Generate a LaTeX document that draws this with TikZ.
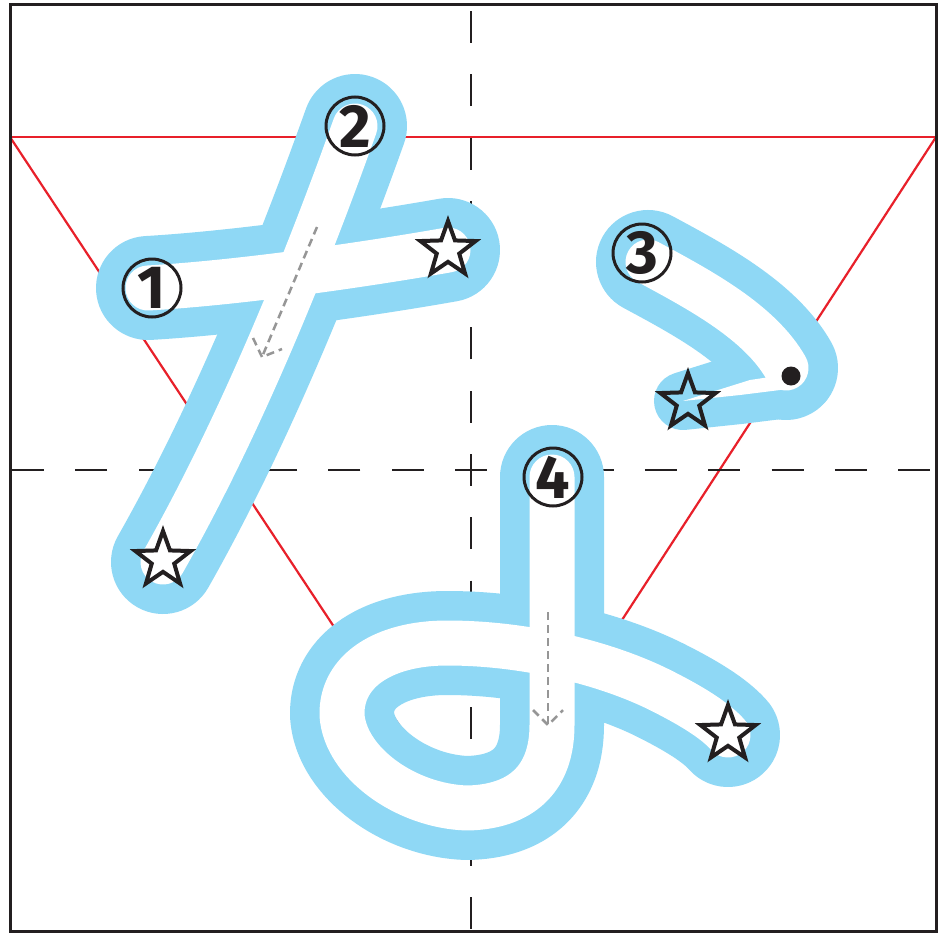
\documentclass[tikz,border=0pt]{standalone}
\usepackage{fontspec}
\setmainfont{Fira Sans}
\usetikzlibrary{shapes.geometric}
\definecolor{tube}{RGB}{143,216,245}
\definecolor{guide}{RGB}{232,32,42}
\definecolor{ink}{RGB}{35,31,32}
\definecolor{hint}{RGB}{150,150,150}
\tikzset{
 frame/.style={draw=ink, line width=3pt},
 axisline/.style={draw=ink, line width=2.6pt, dash pattern=on 32pt off 31.3pt, dash phase=16pt},
 redline/.style={draw=guide, line width=2.2pt},
 tubeout/.style={draw=tube, line width=104pt, line cap=round, line join=round},
 tubein/.style={draw=white, line width=45pt, line cap=round, line join=round},
 taperout/.style={fill=tube, draw=tube, line width=58pt, line join=round},
 taperin/.style={fill=white},
 numring/.style={circle, draw=ink, line width=3pt, minimum size=58pt, inner sep=0pt},
 numtext/.style={inner sep=0pt, font=\fontsize{61}{61}\selectfont\bfseries, text=ink},
 starmark/.style={star, star points=5, star point ratio=2.45, draw=ink, line width=4pt, minimum size=58pt, inner sep=0pt},
 hintarrow/.style={draw=hint, line width=2.5pt, dash pattern=on 8pt off 5pt, line join=miter},
 dotmark/.style={circle, fill=ink, minimum size=19pt, inner sep=0pt}
}
\def\kanaA{(148,288) .. controls (250,282) and (380,262) .. (448,250)}
\def\kanaB{(355,126) .. controls (325,210) and (255,400) .. (163,562)}
\def\kanaC{(648,262) .. controls (700,290) and (760,322) .. (786,368)}
\def\kanaCt{(683,401) -- (750,380) -- (790,374) -- (803,383) -- (780,390) -- (740,395) -- cycle}
\def\kanaD{(552,477) -- (552,725) .. controls (552,780) and (520,807) .. (467,808) .. controls (405,806) and (345,762) .. (342,715) .. controls (341,670) and (385,643) .. (447,643) .. controls (530,643) and (610,665) .. (660,690) .. controls (690,705) and (715,720) .. (728,735)}
\begin{document}
\begin{tikzpicture}[x=1pt,y=-1pt]
\useasboundingbox (0,0) rectangle (939,934);
\fill[white] (0,0) rectangle (939,934);
% red guide triangle
\coordinate (TL) at (10,137);
\coordinate (TR) at (936,137);
\coordinate (AP) at (477,843);
\draw[redline] (TL) -- (TR);
\draw[redline] (TL) -- (AP) -- (TR);
% dashed centre lines
\coordinate (C) at (471,470);
\coordinate (CL) at (10,470);
\coordinate (CR) at (936,470);
\coordinate (CT) at (471,5);
\coordinate (CB) at (471,931);
\draw[axisline] (C) -- (CL);
\draw[axisline] (C) -- (CR);
\draw[axisline] (C) -- (CT);
\draw[axisline] (C) -- (CB);
% frame
\draw[frame] (10,5) rectangle (936,931);
% blue outlines
\draw[tubeout] \kanaA;
\draw[tubeout] \kanaB;
\draw[tubeout] \kanaC;
\filldraw[taperout] \kanaCt;
\draw[tubeout] \kanaD;
% white interiors
\draw[tubein] \kanaA;
\draw[tubein] \kanaB;
\draw[tubein] \kanaC;
\fill[taperin] \kanaCt;
\draw[tubein] \kanaD;
% hint arrows
\coordinate (a1s) at (317,227);
\coordinate (a1t) at (262,357);
\coordinate (a1l) at (253,338);
\coordinate (a1r) at (282,349);
\draw[hintarrow] (a1s) -- (a1t);
\draw[hintarrow] (a1l) -- (a1t) -- (a1r);
\coordinate (a2s) at (548,612);
\coordinate (a2t) at (548,725);
\coordinate (a2l) at (533,710);
\coordinate (a2r) at (563,710);
\draw[hintarrow] (a2s) -- (a2t);
\draw[hintarrow] (a2l) -- (a2t) -- (a2r);
% dot
\node[dotmark] (dot) at (791,376) {};
% stars
\node[starmark] (s1) at (448,250) {};
\node[starmark] (s2) at (163,560) {};
\node[starmark] (s3) at (688,402) {};
\node[starmark] (s4) at (728,734) {};
% numbers
\node[numring] (n1) at (152,288) {};
\node[numtext] at (n1) {1};
\node[numring] (n2) at (355,126) {};
\node[numtext] at (n2) {2};
\node[numring] (n3) at (642,253) {};
\node[numtext] at (n3) {3};
\node[numring] (n4) at (553,477) {};
\node[numtext] at (n4) {4};
\end{tikzpicture}
\end{document}
